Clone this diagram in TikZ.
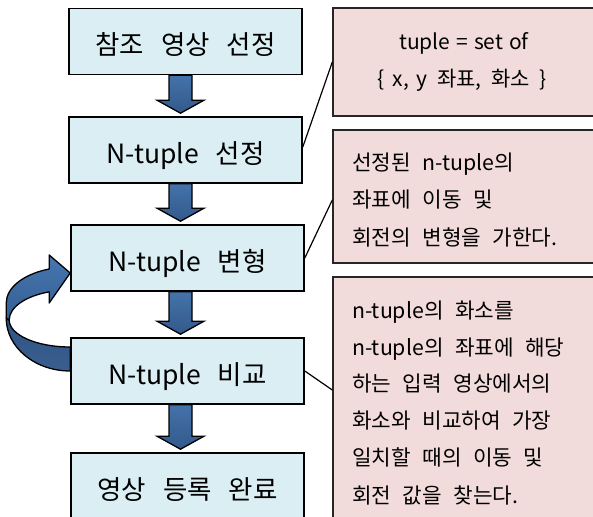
\documentclass[tikz,border=0pt]{standalone}
\usepackage{fontspec}
\setmainfont{Noto Sans CJK KR}[WordSpace=2.4]
\usetikzlibrary{calc,backgrounds}
\definecolor{boxblue}{HTML}{DAEEF3}
\definecolor{boxpink}{HTML}{F2DCDB}
\definecolor{arrowtop}{HTML}{4473AA}
\definecolor{arrowbot}{HTML}{33598B}
\definecolor{ribbontop}{HTML}{4577AF}
\definecolor{ribbonmid}{HTML}{355E93}
\definecolor{ribbondark}{HTML}{2F5384}
\definecolor{ribbondark2}{HTML}{3A5F8F}
\newcommand{\stepfont}{\fontsize{26.5}{30}\selectfont\spaceskip 17pt\relax}
\tikzset{
  stepbox/.style={draw=black, line width=1.6pt, fill=boxblue, minimum width=233pt,
    minimum height=66pt, inner sep=0pt, text height=27pt, text depth=1pt,
    font=\stepfont},
  notebox/.style={draw=black!85, line width=1.4pt, fill=boxpink, inner sep=0pt},
  notetext/.style={inner sep=0pt, font=\fontsize{21.3}{25}\selectfont, anchor=base west},
  notetextc/.style={inner sep=0pt, font=\fontsize{21}{25}\selectfont, anchor=base},
  blockarrow/.style={draw=black, line width=1.3pt, top color=arrowtop, bottom color=arrowbot},
  ribbon/.style={draw=black, line width=1.3pt, line join=round},
  leader/.style={draw=black, line width=1.2pt},
}
\newcommand{\blockarr}[2]{%
  \path[blockarrow] ($(#1.south -| axis)+(-11.5,0)$) -- ($(#1.south -| axis)+(11.5,0)$)
    -- ($(#2.north -| axis)+(11.5,-16)$) -- ($(#2.north -| axis)+(23.5,-16)$)
    -- ($(#2.north -| axis)+(0,-3)$) -- ($(#2.north -| axis)+(-23.5,-16)$)
    -- ($(#2.north -| axis)+(-11.5,-16)$) -- cycle;}
\begin{document}
\begin{tikzpicture}[x=1pt,y=-1pt]
\useasboundingbox (0,0) rectangle (593,516);
\clip (0,0) rectangle (593,516);
\coordinate (axis) at (180.5,0);
% step boxes
\node[stepbox] (b1) at (185.5,41.5) {참조 영상 선정};
\node[stepbox] (b2) at (185.5,150) {N-tuple 선정};
\node[stepbox] (b3) at (187.5,258) {N-tuple 변형};
\node[stepbox] (b4) at (187.5,371) {N-tuple 비교};
\node[stepbox, minimum height=67pt] (b5) at (187.5,486.5) {영상 등록 완료};
% loop-back ribbon arrow (under the boxes)
\begin{scope}[on background layer, shift={(b4.west)}]
  \path[ribbon, top color=ribbondark, bottom color=ribbondark2]
    (-64,-53) arc[start angle=180, end angle=90, x radius=64, y radius=53]
    -- (0,-24) arc[start angle=90, end angle=180, x radius=61, y radius=27] -- cycle;
  \path[ribbon, top color=ribbontop, bottom color=ribbonmid]
    (-21,-79.2) -- (-21,-68) -- (0,-98) -- (-21,-116) -- (-21,-102)
    arc[start angle=250.8, end angle=180, x radius=64, y radius=36]
    -- (-64,-53) -- (-61,-51)
    arc[start angle=180, end angle=249.9, x radius=61, y radius=30] -- cycle;
\end{scope}
% down arrows
\blockarr{b1}{b2}
\blockarr{b2}{b3}
\blockarr{b3}{b4}
\blockarr{b4}{b5}
% note boxes
\node[notebox, minimum width=264pt, minimum height=108pt] (pA) at (465,62) {};
\node[notebox, minimum width=264pt, minimum height=133pt] (pB) at (465,196.5) {};
\node[notebox, minimum width=264pt, minimum height=248pt] (pC) at (465,401) {};
\node[notetextc] (tA1) at (464,50) {tuple\hspace{6pt}=\hspace{6pt}set\hspace{6pt}of};
\node[notetextc] (tA2) at (462,87) {\{\hspace{8pt}x,\hspace{7pt}y\hspace{10pt}좌표,\hspace{10pt}화소\hspace{9pt}\}};
\node[notetext] (tB1) at (352,170) {선정된 n-tuple의};
\node[notetext] (tB2) at (352,207) {좌표에 이동 및};
\node[notetext] (tB3) at (352,245) {회전의 변형을 가한다.};
\node[notetext] (tC1) at (352,318) {n-tuple의 화소를};
\node[notetext] (tC2) at (352,355) {n-tuple의 좌표에 해당};
\node[notetext] (tC3) at (352,391) {하는 입력 영상에서의};
\node[notetext] (tC4) at (352,428) {화소와 비교하여 가장};
\node[notetext] (tC5) at (352,465) {일치할 때의 이동 및};
\node[notetext] (tC6) at (352,503) {회전 값을 찾는다.};
% leaders
\draw[leader] ([yshift=3pt]b2.east) -- (pA.west);
\draw[leader] (b3.east) -- ([yshift=-3.5pt]pB.west);
\draw[leader] (b4.east) -- ([yshift=11pt]pC.west);
\end{tikzpicture}
\end{document}
